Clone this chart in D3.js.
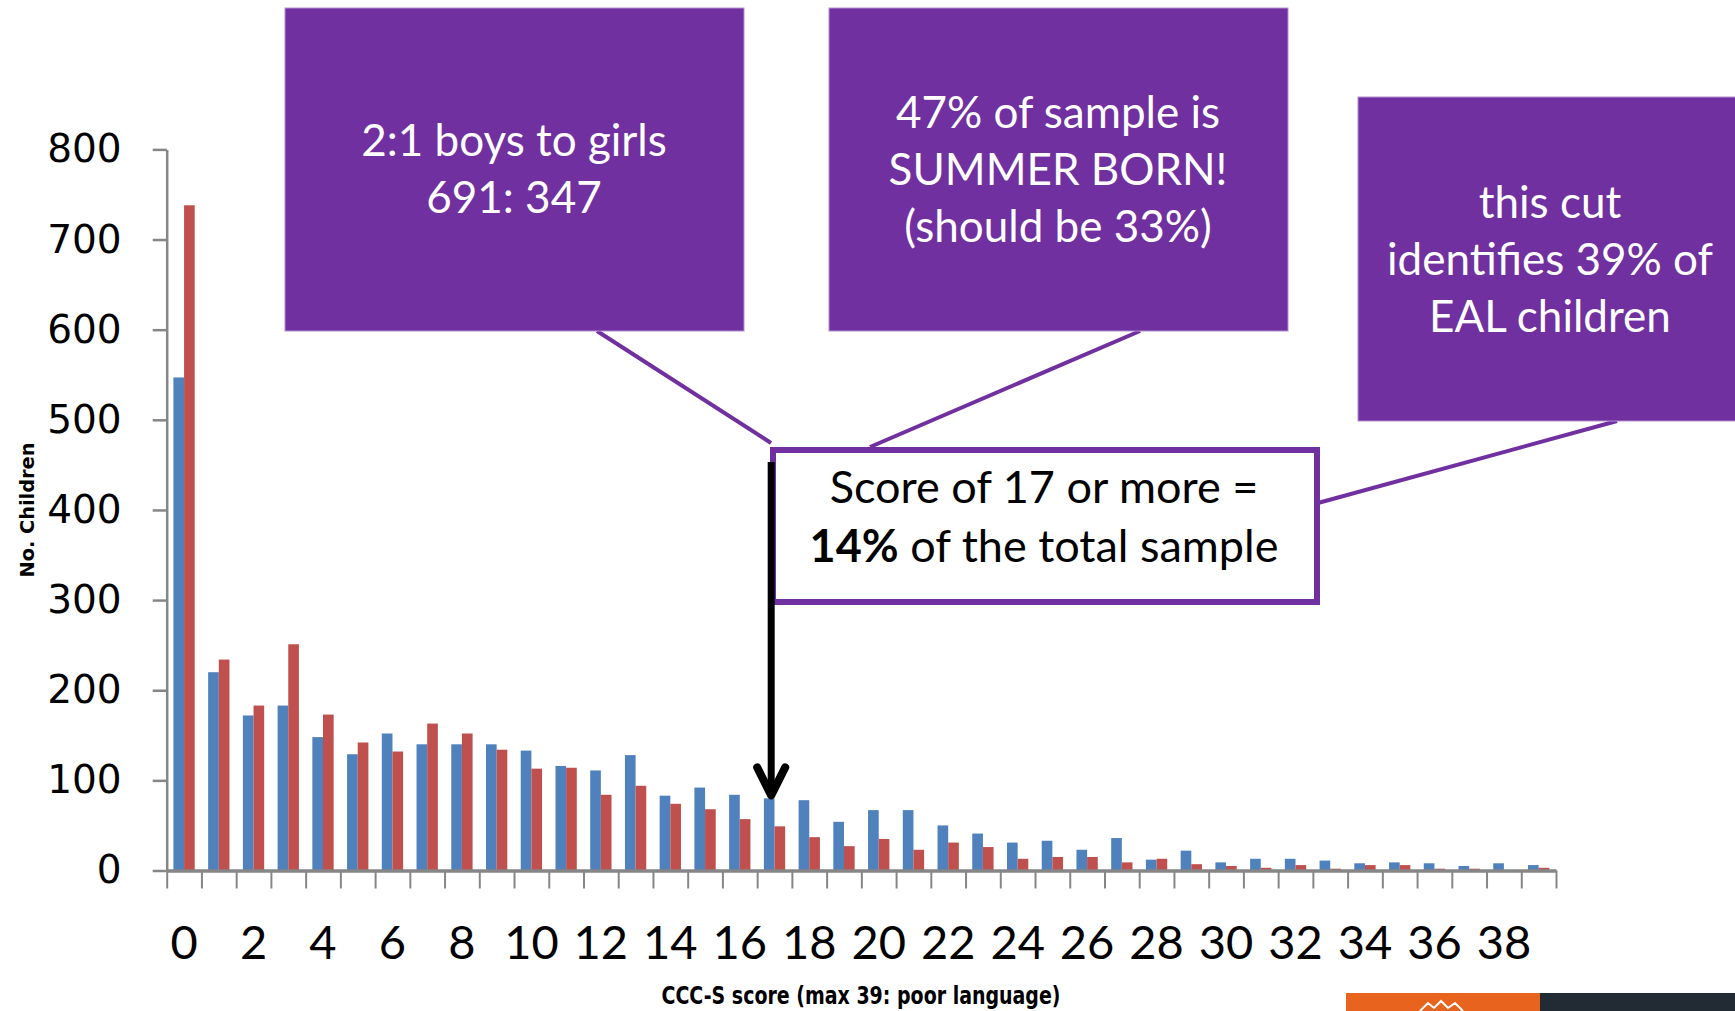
<!DOCTYPE html>
<html>
<head>
<meta charset="utf-8">
<script src="https://cdn.jsdelivr.net/npm/d3@7"></script>
<style>
  html, body { margin: 0; padding: 0; background: #ffffff; overflow: hidden; }
  svg { display: block; }
</style>
</head>
<body>
<svg id="chart" width="1735" height="1011"></svg>
<script>
// CCC-S score distribution: number of children at each score, two groups
const categories = [0,1,2,3,4,5,6,7,8,9,10,11,12,13,14,15,16,17,18,19,20,21,22,23,24,25,26,27,28,29,30,31,32,33,34,35,36,37,38,39];
const groupA = [547,220,172,183,148,129,152,140,140,140,133,116,111,128,83,92,84,80,78,54,67,67,50,41,31,33,23,36,12,22,9,13,13,11,8,9,8,5,8,6];
const groupB = [738,234,183,251,173,142,132,163,152,134,113,114,84,94,74,68,57,49,37,27,35,23,31,26,13,15,15,9,13,7,5,3,6,2,6,6,2,2,0,3];
const xTickLabels = [0,2,4,6,8,10,12,14,16,18,20,22,24,26,28,30,32,34,36,38];
const yTicks = [0,100,200,300,400,500,600,700,800];
const seriesKeys = ["groupA", "groupB"];
const seriesColors = ["#4F81BD", "#C0504D"];

const cutScore = 17;
const calloutBoxes = [
  { lines: ["2:1 boys to girls", "691: 347"] },
  { lines: ["47% of sample is", "SUMMER BORN!", "(should be 33%)"] },
  { lines: ["this cut", "identifies 39% of", "EAL children"] }
];

const svg = d3.select("#chart");
const purple = "#7030A0";
const axisGrey = "#868686";

// plot area
const plot = { left: 166.7, right: 1556, top: 149.4, bottom: 870.5 };

const x0 = d3.scaleBand().domain(categories).range([plot.left, plot.right]).padding(0);
const x1 = d3.scaleBand().domain(seriesKeys).range([0, x0.bandwidth()]).paddingInner(0).paddingOuter(0.63);
const y = d3.scaleLinear().domain([0, 800]).range([plot.bottom, plot.top]);

const rows = categories.map((c, i) => ({ c, values: [groupA[i], groupB[i]] }));

// bars
const g = svg.append("g");
g.selectAll("g.cat").data(rows).join("g")
  .attr("class", "cat")
  .attr("transform", d => `translate(${x0(d.c)},0)`)
  .selectAll("rect")
  .data(d => d.values.map((v, k) => ({ key: seriesKeys[k], v, k })))
  .join("rect")
  .attr("x", d => x1(d.key))
  .attr("width", x1.bandwidth())
  .attr("y", d => y(d.v))
  .attr("height", d => y(0) - y(d.v))
  .attr("fill", d => seriesColors[d.k]);

// y axis
const yAxis = d3.axisLeft(y).tickValues(yTicks).tickSize(14).tickSizeOuter(0).tickPadding(31);
const yg = svg.append("g").attr("transform", `translate(${plot.left},0)`).call(yAxis);
yg.select(".domain").attr("stroke", axisGrey).attr("stroke-width", 2.5);
yg.selectAll(".tick line").attr("stroke", axisGrey).attr("stroke-width", 2.5);
yg.selectAll(".tick text")
  .attr("font-family", "'DejaVu Sans', Verdana, sans-serif")
  .attr("font-size", 39).attr("fill", "#000");

// x axis: ticks on category boundaries
const xEdge = d3.scaleLinear().domain([0, categories.length]).range([plot.left, plot.right]);
const xAxisTicks = d3.axisBottom(xEdge).tickValues(d3.range(categories.length + 1))
  .tickSize(18).tickSizeOuter(0).tickFormat("");
const xg = svg.append("g").attr("transform", `translate(0,${plot.bottom})`).call(xAxisTicks);
xg.select(".domain").attr("stroke", axisGrey).attr("stroke-width", 3.5);
xg.selectAll(".tick line").attr("stroke", axisGrey).attr("stroke-width", 2);

// x labels at every other category centre
const xAxisLabels = d3.axisBottom(x0).tickValues(xTickLabels).tickSize(0).tickPadding(0);
const xl = svg.append("g").attr("transform", `translate(0,${plot.bottom})`).call(xAxisLabels);
xl.select(".domain").remove();
xl.selectAll(".tick text")
  .attr("font-family", "Lato, 'Open Sans', sans-serif")
  .attr("font-size", 47).attr("fill", "#000")
  .attr("dy", null).attr("y", 88);

// axis titles
svg.append("text")
  .attr("transform", "translate(34,510) rotate(-90)")
  .attr("text-anchor", "middle")
  .attr("font-family", "'DejaVu Sans', sans-serif").attr("font-weight", "bold")
  .attr("font-size", 20).attr("textLength", 135).attr("lengthAdjust", "spacingAndGlyphs")
  .text("No. Children");
svg.append("text")
  .attr("x", 861).attr("y", 1004)
  .attr("text-anchor", "middle")
  .attr("font-family", "'DejaVu Sans', sans-serif").attr("font-weight", "bold")
  .attr("font-size", 24).attr("textLength", 399).attr("lengthAdjust", "spacingAndGlyphs")
  .text("CCC-S score (max 39: poor language)");

// connectors from callouts to the cut-off box
const connectors = [
  [[597, 331], [771, 443]],
  [[1140, 331], [870, 447]],
  [[1617, 421], [1318, 503]]
];
svg.append("g").selectAll("line").data(connectors).join("line")
  .attr("x1", d => d[0][0]).attr("y1", d => d[0][1])
  .attr("x2", d => d[1][0]).attr("y2", d => d[1][1])
  .attr("stroke", purple).attr("stroke-width", 4);

// purple callout boxes
const boxGeom = [
  { x: 285, y: 8, w: 459, h: 323, cx: 514, base: 156 },
  { x: 829, y: 8, w: 459, h: 323, cx: 1058, base: 128 },
  { x: 1358, y: 97, w: 390, h: 324, cx: 1550, base: 218 }
];
calloutBoxes.forEach((b, i) => {
  const gm = boxGeom[i];
  const bg = svg.append("g");
  bg.append("rect").attr("x", gm.x).attr("y", gm.y).attr("width", gm.w).attr("height", gm.h)
    .attr("fill", purple).attr("stroke", "#b48fd0").attr("stroke-width", 1);
  bg.selectAll("text").data(b.lines).join("text")
    .attr("x", gm.cx).attr("y", (d, j) => gm.base + j * 57)
    .attr("text-anchor", "middle")
    .attr("font-family", "Lato, 'Open Sans', sans-serif").attr("font-size", 44)
    .attr("fill", "#ffffff")
    .text(d => d);
});

// cut-off statement box
const sb = svg.append("g");
sb.append("rect").attr("x", 773).attr("y", 450).attr("width", 544).attr("height", 152)
  .attr("fill", "#ffffff").attr("stroke", purple).attr("stroke-width", 6);
sb.append("text").attr("x", 1044).attr("y", 503).attr("text-anchor", "middle")
  .attr("font-family", "Lato, 'Open Sans', sans-serif").attr("font-size", 45).attr("fill", "#000")
  .text("Score of 17 or more =");
const t2 = sb.append("text").attr("x", 1044).attr("y", 562).attr("text-anchor", "middle")
  .attr("font-family", "Lato, 'Open Sans', sans-serif").attr("font-size", 45).attr("fill", "#000");
t2.append("tspan").attr("font-weight", "bold").text("14%");
t2.append("tspan").text(" of the total sample");

// arrow pointing at the cut-off score
const ax = x0(cutScore) + x1("groupA") + x1.bandwidth() / 2 + 2;
const tipY = y(groupA[categories.indexOf(cutScore)]) - 3;
const arrow = svg.append("g").attr("stroke", "#000").attr("fill", "none").attr("stroke-linecap", "round");
arrow.append("line").attr("x1", ax).attr("y1", 462).attr("x2", ax).attr("y2", tipY)
  .attr("stroke-width", 7).attr("stroke-linecap", "butt");
arrow.append("path")
  .attr("d", `M${ax - 14},${tipY - 28} L${ax},${tipY} L${ax + 14},${tipY - 28}`)
  .attr("stroke-width", 8).attr("stroke-linejoin", "round");

// footer strip
svg.append("rect").attr("x", 1346).attr("y", 993).attr("width", 194).attr("height", 18).attr("fill", "#E8641E");
svg.append("rect").attr("x", 1540).attr("y", 993).attr("width", 195).attr("height", 18).attr("fill", "#222a33");
svg.append("path").attr("d", "M1420,1011 L1428,1003 L1434,1008 L1441,1001 L1448,1008 L1455,1003 L1463,1011")
  .attr("fill", "none").attr("stroke", "#ffffff").attr("stroke-width", 2);
</script>
</body>
</html>
